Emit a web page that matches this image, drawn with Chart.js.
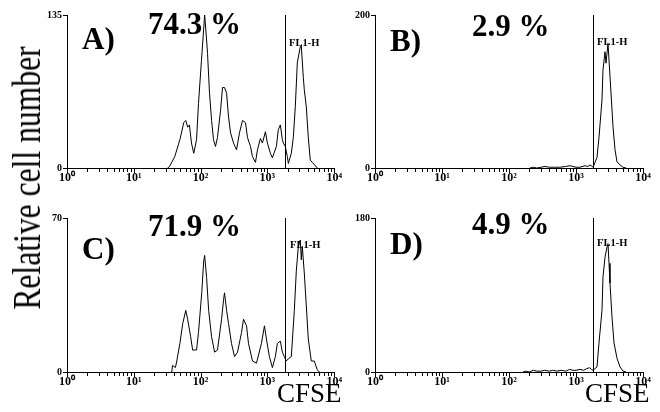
<!DOCTYPE html>
<html>
<head>
<meta charset="utf-8">
<script src="https://cdn.jsdelivr.net/npm/chart.js@4.4.1/dist/chart.umd.min.js"></script>
<style>
  body { margin: 0; background: #fff; }
  #page { position: relative; width: 660px; height: 412px; overflow: hidden; font-family: "Liberation Serif", "DejaVu Serif", serif; color: #000; }
  .panel { position: absolute; }
  .txt { position: absolute; line-height: 1; white-space: nowrap; }
  .big { font-size: 31px; font-weight: bold; }
  .fl { font-size: 10.5px; font-weight: bold; }
  .cfse { font-size: 27px; }
  #ylab { position: absolute; left: 27px; top: 178px; font-size: 40px; line-height: 1; white-space: nowrap;
          transform: translate(-50%, -50%) rotate(-90deg) scaleX(0.79); }
</style>
</head>
<body>
<div id="page">
  <div class="panel" style="left:0;top:0"><canvas id="cA" width="345" height="200"></canvas></div>
  <div class="panel" style="left:345px;top:0"><canvas id="cB" width="315" height="200"></canvas></div>
  <div class="panel" style="left:0;top:200px"><canvas id="cC" width="345" height="212"></canvas></div>
  <div class="panel" style="left:345px;top:200px"><canvas id="cD" width="315" height="212"></canvas></div>
  <div id="ylab">Relative cell number</div>
</div>
<script>
// FL1 (CFSE) intensity and event counts
const aFl1 = [32, 34, 41, 49, 56, 60, 64, 68, 73, 79, 87, 93, 103, 111, 115, 123, 127, 136, 146, 156, 167, 179, 199, 213, 228, 245, 262, 281, 311, 345, 382, 424, 470, 503, 558, 598, 663, 710, 786, 842, 934, 1000, 1109, 1188, 1362, 1459, 1563, 1675, 1733, 1857, 1989, 2059, 2281, 2443, 2617, 2804, 3109, 3217, 3447, 3568, 3822, 4094, 4385, 4697, 5031, 5575];
const aCount = [0, 1, 10, 25, 40, 42, 36, 38, 22, 13, 25, 57, 95, 122, 135, 113, 101, 66, 42, 25, 19, 27, 51, 71, 71, 66, 45, 31, 22, 16, 31, 42, 40, 27, 19, 10, 5, 16, 26, 22, 32, 22, 13, 9, 19, 34, 38, 25, 22, 19, 10, 4, 13, 27, 54, 93, 107, 108, 80, 69, 54, 27, 7, 5, 3, 0];

const bFl1 = [205, 230, 260, 300, 345, 400, 480, 577, 700, 814, 902, 1000, 1148, 1362, 1500, 1618, 1750, 1800, 2059, 2204, 2443, 2529, 2709, 2804, 3005, 3109, 3330, 3568, 3822, 4094, 4539, 5031, 5600];
const bCount = [0, 1, 0, 1, 2, 1, 1, 1, 2, 3, 2, 1, 1, 3, 2, 4, 2, 1, 14, 40, 89, 128, 152, 137, 163, 141, 98, 54, 24, 8, 4, 1, 0];

const cFl1 = [37, 38, 42, 44, 49, 54, 60, 64, 71, 76, 87, 93, 104, 111, 115, 123, 132, 146, 162, 179, 206, 221, 228, 245, 262, 290, 322, 357, 410, 439, 487, 521, 598, 686, 814, 903, 967, 1071, 1188, 1316, 1410, 1563, 1675, 1794, 1922, 2059, 2281, 2529, 2709, 2902, 3109, 3217, 3330, 3568, 3822, 4094, 4539, 5031, 5575, 6000];
const cCount = [0, 3, 2, 5, 13, 22, 28, 24, 16, 10, 10, 18, 36, 50, 53, 43, 28, 16, 9, 10, 24, 33, 36, 28, 22, 13, 7, 9, 18, 24, 21, 13, 5, 4, 13, 21, 15, 7, 2, 7, 13, 14, 9, 7, 5, 6, 7, 28, 46, 57, 60, 51, 57, 45, 30, 15, 5, 5, 1, 0];

const dFl1 = [162, 180, 200, 230, 260, 300, 340, 400, 450, 520, 600, 700, 800, 900, 1000, 1150, 1300, 1450, 1600, 1700, 1800, 2059, 2204, 2443, 2529, 2709, 2902, 3005, 3109, 3217, 3447, 3692, 4094, 4539, 5031, 5600];
const dCount = [0, 1, 0, 2, 1, 1, 2, 1, 2, 1, 2, 1, 3, 2, 2, 3, 2, 4, 5, 3, 2, 6, 34, 72, 111, 134, 146, 150, 127, 104, 64, 34, 16, 6, 1, 0];

const panelMax = [135, 200, 70, 180];
const panelGate = [1850, 1800, 1850, 1800];
const panelLetters = ['A)', 'B)', 'C)', 'D)'];
const panelPercents = ['74.3 %', '2.9 %', '71.9 %', '4.9 %'];
const decades = [1, 10, 100, 1000, 10000];
const decadeLabels = ['10⁰', '10¹', '10²', '10³', '10⁴'];

// log minor ticks 1..9 per decade
const logTicks = [];
for (let d = 0; d < 4; d++) {
  for (let m = 1; m < 10; m++) logTicks.push(m * decades[d]);
}
logTicks.push(decades[4]);

// gate marker plus the small axis tick marks
const gatePlugin = {
  id: 'gate',
  afterDraw(chart, args, opts) {
    const { ctx, chartArea, scales } = chart;
    const bottom = Math.round(chartArea.bottom);
    const left = Math.round(chartArea.left);
    ctx.save();
    ctx.fillStyle = '#000';
    const gx = Math.round(scales.x.getPixelForValue(opts.value));
    ctx.fillRect(gx, chartArea.top, 1, chartArea.bottom - chartArea.top);
    logTicks.forEach(v => {
      const x = Math.round(scales.x.getPixelForValue(v));
      ctx.fillRect(x, bottom, 1, decades.includes(v) ? 5 : 4);
    });
    scales.y.ticks.forEach(t => {
      const y = Math.round(scales.y.getPixelForValue(t.value));
      ctx.fillRect(left - 4, y, 4, 1);
    });
    ctx.restore();
  }
};

const tickFont = { family: 'Liberation Serif', weight: 'bold', size: 12 };

function makeChart(id, fl1, counts, yMax, gate, pad) {
  return new Chart(document.getElementById(id), {
    type: 'line',
    data: {
      datasets: [{
        data: fl1.map((v, i) => ({ x: v, y: counts[i] })),
        borderColor: '#000',
        borderWidth: 1,
        pointRadius: 0,
        tension: 0,
        fill: false
      }]
    },
    options: {
      responsive: false,
      animation: false,
      events: [],
      layout: { padding: pad },
      plugins: { legend: { display: false }, tooltip: { enabled: false }, gate: { value: gate } },
      scales: {
        x: {
          type: 'logarithmic',
          min: 1,
          max: 10000,
          afterBuildTicks: s => { s.ticks = decades.map(v => ({ value: v })); },
          afterFit: s => { s.height = 22; },
          grid: { display: false, drawTicks: false },
          border: { display: true, color: '#000', width: 1 },
          ticks: {
            autoSkip: false, maxRotation: 0, minRotation: 0, padding: 3, color: '#000', font: tickFont,
            callback: v => { const k = decades.indexOf(v); return k >= 0 ? decadeLabels[k] : ''; }
          }
        },
        y: {
          min: 0,
          max: yMax,
          afterBuildTicks: s => { s.ticks = [{ value: 0 }, { value: yMax }]; },
          afterFit: s => { s.width = 28; },
          grid: { display: false, drawTicks: false },
          border: { display: true, color: '#000', width: 1 },
          ticks: { padding: 5, color: '#000', font: { family: 'Liberation Serif', weight: 'bold', size: 10 }, callback: v => v }
        }
      }
    },
    plugins: [gatePlugin]
  });
}

makeChart('cA', aFl1, aCount, panelMax[0], panelGate[0], { left: 39, top: 15, right: 10, bottom: 10 });
makeChart('cB', bFl1, bCount, panelMax[1], panelGate[1], { left: 2, top: 15, right: 17, bottom: 10 });
makeChart('cC', cFl1, cCount, panelMax[2], panelGate[2], { left: 39, top: 18, right: 10, bottom: 18 });
makeChart('cD', dFl1, dCount, panelMax[3], panelGate[3], { left: 2, top: 18, right: 17, bottom: 18 });

// panel annotations as page text
const page = document.getElementById('page');
function addText(cls, text, left, top) {
  const el = document.createElement('div');
  el.className = 'txt ' + cls;
  el.style.left = left + 'px';
  el.style.top = top + 'px';
  el.textContent = text;
  page.appendChild(el);
}
const letterPos = [[82, 23], [390, 25], [82, 233], [390, 228]];
const pctPos = [[148, 8], [472, 10], [148, 210], [472, 208]];
const flPos = [[289, 38], [597, 37], [290, 240], [597, 238]];
for (let i = 0; i < 4; i++) {
  addText('big', panelLetters[i], letterPos[i][0], letterPos[i][1]);
  addText('big', panelPercents[i], pctPos[i][0], pctPos[i][1]);
  addText('fl', 'FL1-H', flPos[i][0], flPos[i][1]);
}
addText('cfse', 'CFSE', 277, 380);
addText('cfse', 'CFSE', 585, 380);
</script>
</body>
</html>
